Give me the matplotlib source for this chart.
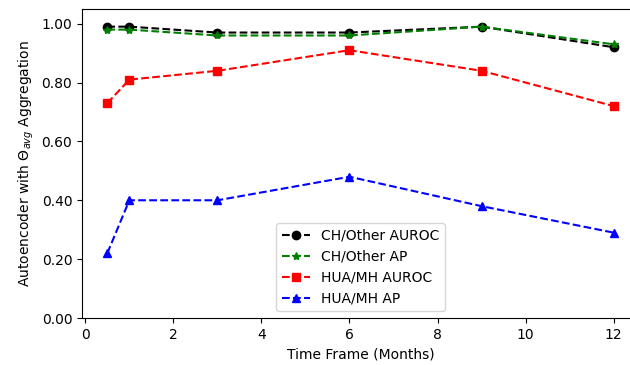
import matplotlib.pyplot as plt
import numpy as np

months = [0.5, 1, 3, 6, 9, 12]
ch_auroc = [0.99, 0.99, 0.97, 0.97, 0.99, 0.92]
ch_ap = [0.98, 0.98, 0.96, 0.96, 0.99, 0.93]
hua_auroc = [0.73, 0.81, 0.84, 0.91, 0.84, 0.72]
hua_ap = [0.22, 0.40, 0.40, 0.48, 0.38, 0.29]

fig = plt.figure(figsize=(6.3, 3.65), dpi=100)
# right side of the original is cut off, so the axes run past the figure edge
ax = fig.add_axes([82/630, 1-318/365, (639-82)/630, (318-9)/365])
ax.spines['right'].set_visible(False)

ax.plot(months, ch_auroc, 'k--o', label="CH/Other AUROC")
ax.plot(months, ch_ap, 'g--*', label="CH/Other AP")
ax.plot(months, hua_auroc, 'r--s', label="HUA/MH AUROC")
ax.plot(months, hua_ap, 'b--^', label="HUA/MH AP")

ax.set_ylim(0, 1.05)
ax.set_yticks(np.arange(0, 1.01, 0.2))
ax.set_yticklabels(["%.2f" % v for v in np.arange(0, 1.01, 0.2)])
ax.set_xticks([0, 2, 4, 6, 8, 10, 12])
ax.set_xlabel("Time Frame (Months)")
ax.set_ylabel(r"Autoencoder with $\Theta_{avg}$ Aggregation")
ax.legend(loc="lower center")

fig.savefig("out.png", dpi=100)
